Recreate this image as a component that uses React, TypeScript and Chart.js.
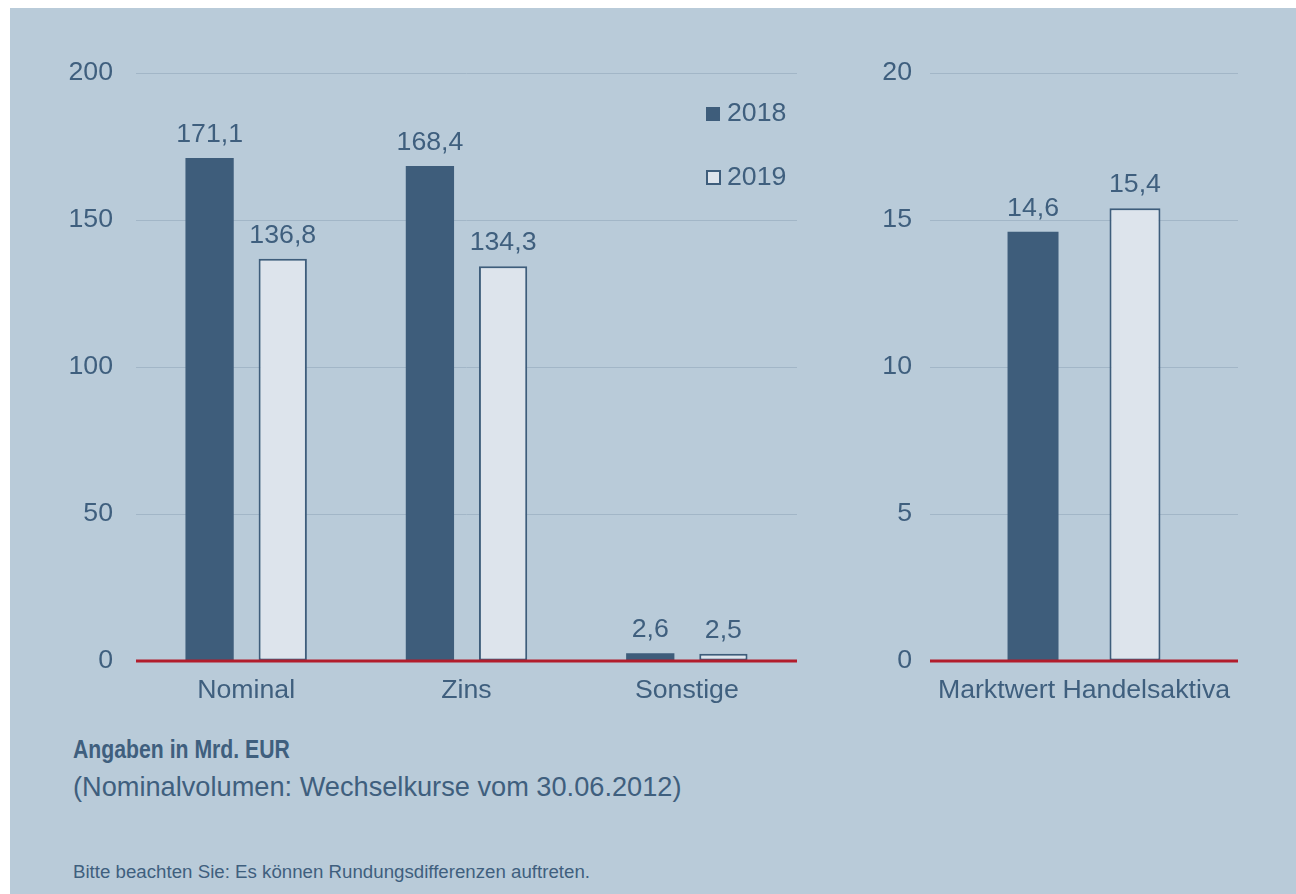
import React, { useEffect, useRef } from 'react';
import { Chart, registerables } from 'chart.js';

Chart.register(...registerables);

// ---- data ----
const categoriesLeft = ['Nominal', 'Zins', 'Sonstige'];
const values2018Left = [171.1, 168.4, 2.6];
const values2019Left = [136.8, 134.3, 2.5];

const categoriesRight = ['Marktwert Handelsaktiva'];
const values2018Right = [14.6];
const values2019Right = [15.4];

const seriesNames = ['2018', '2019'];
const yLeftMax = 200;
const yLeftStep = 50;
const yRightMax = 20;
const yRightStep = 5;

const titleText = 'Angaben in Mrd. EUR';
const subtitleText = '(Nominalvolumen: Wechselkurse vom 30.06.2012)';
const footnoteText = 'Bitte beachten Sie: Es können Rundungsdifferenzen auftreten.';

// ---- style ----
const FONT = "'Liberation Sans', Arial, Helvetica, sans-serif";
const TEXT = '#3f5f7e';
const DARK = '#3e5d7b';
const LIGHT = '#dde4ec';
const RED = '#b21d2c';
const GRID = '#a2b6c7';
const BG = '#b9cbd9';
const FS = 26.7;

const fmt = (v: number) => v.toFixed(1).replace('.', ',');

const overlayPlugin = {
  id: 'overlay',
  afterDatasetsDraw(chart: any) {
    const ctx = chart.ctx;
    const area = chart.chartArea;
    const y0 = chart.scales.y.getPixelForValue(0);
    ctx.save();
    ctx.strokeStyle = RED;
    ctx.lineWidth = 3;
    ctx.beginPath();
    ctx.moveTo(area.left, y0);
    ctx.lineTo(area.right, y0);
    ctx.stroke();
    ctx.font = `${FS}px ${FONT}`;
    ctx.fillStyle = TEXT;
    ctx.textAlign = 'center';
    ctx.textBaseline = 'alphabetic';
    chart.data.datasets.forEach((ds: any, i: number) => {
      const meta = chart.getDatasetMeta(i);
      meta.data.forEach((el: any, j: number) => {
        ctx.fillText(fmt(ds.data[j]), el.x, el.y - 16);
      });
    });
    ctx.restore();
  },
};

type Props = {
  labels: string[];
  d18: number[];
  d19: number[];
  max: number;
  step: number;
  width: number;
  height: number;
  yWidth: number;
  yPad: number;
  padRight: number;
  cp: number;
  bp: number;
  style: React.CSSProperties;
};

function BarChart(p: Props) {
  const ref = useRef<HTMLCanvasElement | null>(null);
  useEffect(() => {
    if (!ref.current) return;
    const chart = new Chart(ref.current, {
      type: 'bar',
      data: {
        labels: p.labels,
        datasets: [
          {
            label: seriesNames[0],
            data: p.d18,
            backgroundColor: DARK,
            borderWidth: 0,
            categoryPercentage: p.cp,
            barPercentage: p.bp,
          },
          {
            label: seriesNames[1],
            data: p.d19,
            backgroundColor: LIGHT,
            borderColor: DARK,
            borderWidth: 2,
            borderSkipped: false,
            categoryPercentage: p.cp,
            barPercentage: p.bp,
          },
        ],
      },
      options: {
        responsive: false,
        animation: false,
        devicePixelRatio: 1,
        layout: { padding: { top: 65, right: p.padRight, left: 0, bottom: 0 } },
        plugins: {
          legend: { display: false },
          tooltip: { enabled: false },
          title: { display: false },
        },
        scales: {
          x: {
            grid: { display: false, drawTicks: false },
            border: { display: false },
            ticks: {
              color: TEXT,
              font: { family: FONT, size: FS },
              padding: 13.5,
              maxRotation: 0,
              autoSkip: false,
            },
            afterFit: (s: any) => {
              s.height = 67;
            },
          },
          y: {
            min: 0,
            max: p.max,
            grid: {
              color: (c: any) => (c.tick && c.tick.value === 0 ? 'rgba(0,0,0,0)' : GRID),
              lineWidth: 1,
              drawTicks: false,
            },
            border: { display: false },
            ticks: {
              stepSize: p.step,
              color: TEXT,
              font: { family: FONT, size: FS },
              padding: p.yPad,
            },
            afterFit: (s: any) => {
              s.width = p.yWidth;
            },
          },
        },
      },
      plugins: [overlayPlugin],
    } as any);
    return () => chart.destroy();
  }, []);
  return <canvas ref={ref} width={p.width} height={p.height} style={p.style} />;
}

const textBase: React.CSSProperties = {
  position: 'absolute',
  fontFamily: FONT,
  color: TEXT,
  lineHeight: 1,
  whiteSpace: 'nowrap',
  margin: 0,
};

export default function App() {
  return (
    <div
      style={{
        position: 'fixed',
        left: 10,
        top: 8,
        right: 0,
        bottom: 0,
        background: BG,
        overflow: 'hidden',
      }}
    >
      <BarChart
        labels={categoriesLeft}
        d18={values2018Left}
        d19={values2019Left}
        max={yLeftMax}
        step={yLeftStep}
        width={800}
        height={720}
        yWidth={126}
        yPad={23}
        padRight={13}
        cp={0.664}
        bp={0.66}
        style={{ position: 'absolute', left: 0, top: 0 }}
      />
      <BarChart
        labels={categoriesRight}
        d18={values2018Right}
        d19={values2019Right}
        max={yRightMax}
        step={yRightStep}
        width={476}
        height={720}
        yWidth={110}
        yPad={18}
        padRight={58}
        cp={0.662}
        bp={0.5}
        style={{ position: 'absolute', left: 810, top: 0 }}
      />
      {/* legend */}
      <div style={{ position: 'absolute', left: 696, top: 99, width: 14, height: 14, background: DARK }} />
      <div style={{ ...textBase, left: 717, top: 91.1, fontSize: FS }}>{seriesNames[0]}</div>
      <div
        style={{
          position: 'absolute',
          left: 696,
          top: 162,
          width: 15,
          height: 15,
          background: LIGHT,
          border: `2px solid ${DARK}`,
          boxSizing: 'border-box',
        }}
      />
      <div style={{ ...textBase, left: 717, top: 155.4, fontSize: FS }}>{seriesNames[1]}</div>
      {/* notes */}
      <div
        style={{
          ...textBase,
          left: 63,
          top: 728,
          fontSize: FS,
          fontWeight: 'bold',
          transform: 'scaleX(0.795)',
          transformOrigin: 'left top',
        }}
      >
        {titleText}
      </div>
      <div style={{ ...textBase, left: 63, top: 765, fontSize: 27.2 }}>{subtitleText}</div>
      <div style={{ ...textBase, left: 63, top: 855.2, fontSize: 18.7 }}>{footnoteText}</div>
    </div>
  );
}
